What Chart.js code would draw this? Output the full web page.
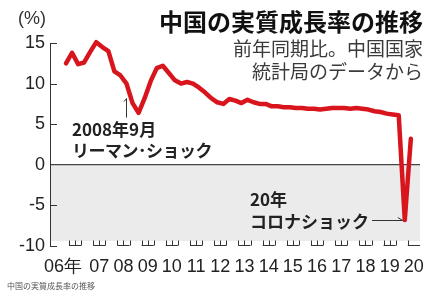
<!DOCTYPE html>
<html>
<head>
<meta charset="utf-8">
<script src="https://cdn.jsdelivr.net/npm/chart.js@4/dist/chart.umd.min.js"></script>
<style>
  body { margin: 0; background: #fff; }
  #wrap { width: 433px; height: 300px; position: relative; }
</style>
</head>
<body>
<div id="wrap"><canvas id="myChart" width="433" height="300"></canvas></div>
<script>
// year tick labels (one per year)
const years = ['06年', '07', '08', '09', '10', '11', '12', '13', '14', '15', '16', '17', '18', '19', '20'];
const firstYear = 2006;
// quarterly real GDP growth, % vs same quarter a year earlier (2006Q1 .. 2020Q2)
const growth = [
  12.5, 13.8, 12.4, 12.6,
  13.9, 15.1, 14.5, 14.0,
  11.5, 11.0, 10.0, 7.6,
  6.4, 8.2, 10.3, 11.9,
  12.2, 11.3, 10.4, 10.0,
  10.2, 10.0, 9.5, 8.9,
  8.2, 7.7, 7.5, 8.1,
  7.9, 7.6, 8.0, 7.7,
  7.5, 7.5, 7.2, 7.2,
  7.1, 7.1, 7.0, 7.0,
  6.9, 6.9, 6.8, 6.9,
  7.0, 7.0, 7.0, 6.9,
  7.0, 6.9, 6.8, 6.6,
  6.5, 6.3, 6.2, 6.1,
  -6.8, 3.2
];
const yTicks = [-10, -5, 0, 5, 10, 15];

const points = growth.map((v, i) => ({ x: firstYear + (i + 0.5) / 4, y: v }));
const jp = '"Noto Sans CJK JP", sans-serif';
const num = '"Liberation Sans", Arial, sans-serif';

const decor = {
  id: 'decor',
  beforeDraw(chart) {
    const { ctx, chartArea: a, scales: { y } } = chart;
    const y0 = y.getPixelForValue(0);
    ctx.save();
    ctx.fillStyle = '#ebebeb';
    ctx.fillRect(a.left, y0, a.right - a.left, a.bottom - 5 - y0);
    ctx.restore();
  },
  afterDraw(chart) {
    const { ctx, chartArea: a, scales: { x, y } } = chart;
    ctx.save();
    ctx.strokeStyle = '#333';
    ctx.lineWidth = 1;
    // inward y ticks
    yTicks.forEach(v => {
      if (v === 0) return;
      const py = Math.round(y.getPixelForValue(v)) + 0.5;
      ctx.beginPath();
      ctx.moveTo(a.left, py);
      ctx.lineTo(a.left + 7, py);
      ctx.stroke();
    });
    // quarter marks along the bottom
    const base = Math.round(a.bottom) - 0.5;
    years.forEach((_, i) => {
      const yr = firstYear + i;
      const last = i === years.length - 1;
      const qs = last ? [0.25] : [0.25, 0.5, 0.75];
      const x1 = x.getPixelForValue(yr + qs[0]);
      const x2 = last ? a.right : x.getPixelForValue(yr + qs[qs.length - 1]);
      ctx.beginPath();
      ctx.moveTo(x1, base);
      ctx.lineTo(x2, base);
      qs.forEach(q => {
        const px = Math.round(x.getPixelForValue(yr + q)) + 0.5;
        ctx.moveTo(px, base);
        ctx.lineTo(px, base - 5);
      });
      ctx.stroke();
    });

    // (%) unit
    ctx.fillStyle = '#333';
    ctx.font = '18px ' + num;
    ctx.textBaseline = 'middle';
    ctx.textAlign = 'center';
    ctx.fillText('(%)', 32, 19);

    // title + source
    ctx.textAlign = 'right';
    ctx.fillStyle = '#111';
    ctx.font = 'bold 24px ' + jp;
    ctx.fillText('中国の実質成長率の推移', 423, 22);
    ctx.fillStyle = '#3a3a3a';
    ctx.font = '19px ' + jp;
    ctx.fillText('前年同期比。中国国家', 423, 49);
    ctx.fillText('統計局のデータから', 423, 72);

    // Lehman note
    ctx.textAlign = 'left';
    ctx.fillStyle = '#222';
    ctx.font = 'bold 17px ' + jp;
    ctx.fillText('2008年9月', 72, 130);
    ctx.letterSpacing = '-0.5px';
    ctx.fillText('リーマン･ショック', 72, 151);
    ctx.letterSpacing = '0px';
    const lx = Math.round(x.getPixelForValue(2008.625)) + 0.5;
    const ly = y.getPixelForValue(growth[10]) + 15;
    ctx.beginPath();
    ctx.moveTo(lx - 2.5, ly + 3);
    ctx.lineTo(lx, ly);
    ctx.lineTo(lx, ly + 19);
    ctx.stroke();

    // Corona note
    ctx.fillText('20年', 250, 200);
    ctx.fillText('コロナショック', 250, 222);
    const tx = x.getPixelForValue(firstYear + 56.5 / 4) - 2;
    const ty = Math.round(y.getPixelForValue(growth[56])) + 0.5;
    ctx.beginPath();
    ctx.moveTo(372, ty);
    ctx.lineTo(tx, ty);
    ctx.moveTo(tx - 5, ty - 3);
    ctx.lineTo(tx, ty);
    ctx.stroke();

    // footer
    ctx.fillStyle = '#555';
    ctx.font = '8px ' + jp;
    ctx.fillText('中国の実質成長率の推移', 7, 286);
    ctx.restore();
  }
};

const chart = new Chart(document.getElementById('myChart'), {
  type: 'line',
  data: {
    datasets: [{
      data: points,
      borderColor: '#d8141c',
      borderWidth: 4.5,
      pointRadius: 0,
      tension: 0,
      borderJoinStyle: 'round',
      borderCapStyle: 'round',
      clip: false
    }]
  },
  options: {
    responsive: false,
    animation: false,
    layout: { padding: { top: 43, right: 13, left: 0, bottom: 0 } },
    plugins: { legend: { display: false }, tooltip: { enabled: false } },
    scales: {
      x: {
        type: 'linear',
        min: 2005.464,
        max: 2020.754,
        grid: { display: false },
        border: { display: false },
        afterFit: s => { s.height = 54; },
        afterBuildTicks: s => {
          s.ticks = years.map((_, i) => ({ value: i === 0 ? firstYear : firstYear + i + 0.5 }));
        },
        ticks: {
          autoSkip: false,
          maxRotation: 0,
          padding: 2,
          color: '#222',
          font: { family: num, size: 18 },
          callback: (v, i) => years[i]
        }
      },
      y: {
        min: -10,
        max: 15,
        afterFit: s => { s.width = 50; },
        afterBuildTicks: s => { s.ticks = yTicks.map(v => ({ value: v })); },
        grid: {
          drawTicks: false,
          color: c => (c.tick && c.tick.value === 0 ? '#444' : 'rgba(0,0,0,0)'),
          lineWidth: 1.2
        },
        border: { display: true, color: '#333', width: 1 },
        ticks: {
          padding: 5,
          color: '#222',
          font: { family: num, size: 18 }
        }
      }
    }
  },
  plugins: [decor]
});
</script>
</body>
</html>
